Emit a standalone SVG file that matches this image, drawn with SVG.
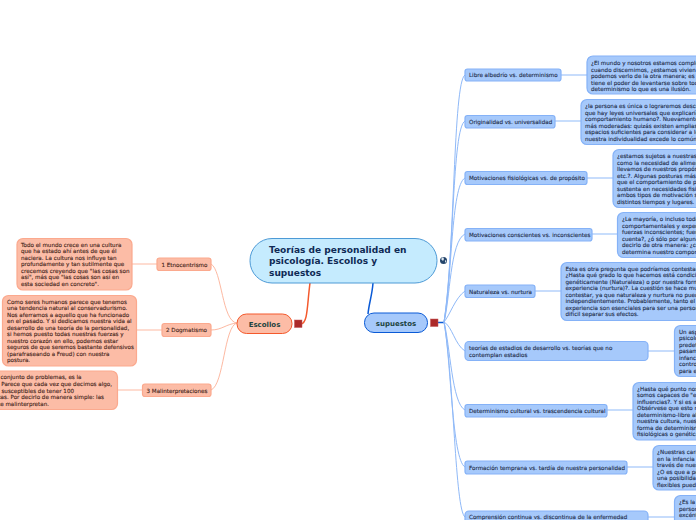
<svg xmlns="http://www.w3.org/2000/svg" width="696" height="520" viewBox="0 0 696 520">
<style>
text{font-family:"DejaVu Sans",Verdana,sans-serif;font-size:5.6px;fill:#1f2d4a;stroke:#1f2d4a;stroke-width:.12}
.b{fill:#a6c9fb;stroke:#85b2f7;stroke-width:1.2}
.o{fill:#fcbca6;stroke:#fba98e;stroke-width:1.2}
text.ot{fill:#43241a;stroke:#43241a}
.cb{fill:none;stroke:#8fb9f8;stroke-width:1}
.cl{fill:none;stroke:#b5d2fb;stroke-width:1.5}
.co{fill:none;stroke:#fdb9a2;stroke-width:1}
text.t{font-size:9.05px;font-weight:bold;fill:#0f2a55;stroke:none}
text.m{font-size:7px;font-weight:bold;fill:#1c4340;stroke:none;text-anchor:middle}
.s{fill:#ac2a2a;stroke:#c45555;stroke-width:.5}
</style>
<rect width="696" height="520" fill="#fff"/>
<g id="connectors">
<path d="M310 283C307 305 308 323 301 324" fill="none" stroke="#f4592c" stroke-width="1.5"/>
<path d="M373 283C372 296 369 303 368 314" fill="none" stroke="#0a5ad6" stroke-width="1.5"/>
<path d="M438 322.500H444" fill="none" stroke="#0a5ad6" stroke-width="1.5"/>
<path class="cb" d="M444 322C455 250 453 82 465 75"/>
<path class="cb" d="M444 322C454 260 452 128 465 121"/>
<path class="cb" d="M444 322C452 280 451 185 465 178"/>
<path class="cb" d="M444 322C450 300 450 241 465 234"/>
<path class="cb" d="M444 322C450 315 455 298 465 291"/>
<path class="cb" d="M444 322C452 326 455 345 465 351"/>
<path class="cb" d="M444 322C450 345 452 404 465 410"/>
<path class="cb" d="M444 322C451 360 452 460 465 467"/>
<path class="cb" d="M444 322C454 380 455 510 465 517"/>
<path class="cb" d="M561 75H587"/>
<path class="cl" d="M555 121H581"/>
<path class="cb" d="M587 178H613"/>
<path class="cl" d="M592 234H618"/>
<path class="cb" d="M535 291H561"/>
<path class="cb" d="M648 351H674"/>
<path class="cl" d="M607 410H633"/>
<path class="cb" d="M627 467H653"/>
<path class="cb" d="M648 517H674"/>
<path class="co" d="M237 323C222 322 222 270 211 264"/>
<path class="co" d="M237 323C226 324 222 330 211 330"/>
<path class="co" d="M237 323C224 326 224 385 211 390"/>
<path class="co" d="M132 264H157"/>
<path class="co" d="M136 330H162"/>
<path class="co" d="M117 390H142"/>
</g>
<g id="central">
<rect x="250" y="238.500" width="187" height="44.500" rx="22" fill="#c5ebfe" stroke="#4d9ad6"/>
<text class="t"><tspan x="269" y="253">Teorías de personalidad en</tspan><tspan x="269" y="264">psicología. Escollos y</tspan><tspan x="269" y="275.500">supuestos</tspan></text>
</g>
<g id="globe">
<circle cx="443.500" cy="260.500" r="3.500" fill="#24456b"/>
<path d="M441 259l2-2 1 2-1 2zM445 260l1.500 1-1.500 2z" fill="#dfe8ef"/>
</g>
<g id="escollos">
<rect x="237" y="314" width="55" height="19.500" rx="9.500" fill="#fcbca6" stroke="#f4592c"/>
<text class="m" x="264.500" y="326.500">Escollos</text>
<rect class="s" x="294.500" y="320" width="7.500" height="7.500"/>
</g>
<g id="supuestos">
<rect x="364.500" y="313" width="63" height="19.500" rx="9.500" fill="#a6c9fb" stroke="#0a5ad6"/>
<text class="m" x="396" y="325.500">supuestos</text>
<rect class="s" x="430.500" y="319" width="7.500" height="7.500"/>
</g>
<g id="n1"><rect class="b" x="465" y="69" width="96" height="12" rx="2.500"/><text x="469" y="77">Libre albedrío vs. determinismo</text></g>
<g id="d1"><rect class="b" x="587" y="56" width="130" height="38" rx="6"/><text><tspan x="591" y="65">¿El mundo y nosotros estamos comple</tspan><tspan x="591" y="71.500">cuando discernimos, ¿estamos vivien</tspan><tspan x="591" y="78">podemos verlo de la otra manera; es</tspan><tspan x="591" y="84.500">tiene el poder de levantarse sobre tod</tspan><tspan x="591" y="91">determinismo lo que es una ilusión.</tspan></text></g>
<g id="n2"><rect class="b" x="465" y="115.500" width="90" height="12.500" rx="2.500"/><text x="469" y="124">Originalidad vs. universalidad</text></g>
<g id="d2"><rect class="b" x="581" y="99.500" width="130" height="45" rx="6"/><text><tspan x="585" y="108">¿la persona es única o lograremos descu</tspan><tspan x="585" y="114.500">que hay leyes universales que explicarían</tspan><tspan x="585" y="121">comportamiento humano?. Nuevamente</tspan><tspan x="585" y="127.500">más moderadas: quizás existen amplias</tspan><tspan x="585" y="134">espacios suficientes para considerar a lo</tspan><tspan x="585" y="140.500">nuestra individualidad excede lo común</tspan></text></g>
<g id="n3"><rect class="b" x="465" y="171.500" width="122" height="13" rx="2.500"/><text x="469" y="180">Motivaciones fisiológicas vs. de propósito</text></g>
<g id="d3"><rect class="b" x="613" y="149.500" width="110" height="58" rx="6"/><text><tspan x="617" y="158">¿estamos sujetos a nuestras</tspan><tspan x="617" y="164.500">como la necesidad de alimen</tspan><tspan x="617" y="171">llevamos de nuestros propósi</tspan><tspan x="617" y="177.500">etc.?. Algunas posturas más</tspan><tspan x="617" y="184">que el comportamiento de p</tspan><tspan x="617" y="190.500">sustenta en necesidades fisi</tspan><tspan x="617" y="197">ambos tipos de motivación s</tspan><tspan x="617" y="203.500">distintos tiempos y lugares.</tspan></text></g>
<g id="n4"><rect class="b" x="465" y="228.500" width="127" height="12.500" rx="2.500"/><text x="469" y="237">Motivaciones conscientes vs. inconscientes</text></g>
<g id="d4"><rect class="b" x="617.500" y="212.500" width="110" height="45" rx="6"/><text><tspan x="622" y="221">¿La mayoría, o incluso toda</tspan><tspan x="622" y="227.500">comportamentales y experi</tspan><tspan x="622" y="234">fuerzas inconscientes; fuer</tspan><tspan x="622" y="240.500">cuenta?, ¿ó sólo por alguna</tspan><tspan x="622" y="247">decirlo de otra manera: ¿cu</tspan><tspan x="622" y="253.500">determina nuestro comport</tspan></text></g>
<g id="n5"><rect class="b" x="465" y="285" width="70" height="12.500" rx="2.500"/><text x="469" y="293.500">Naturaleza vs. nurtura</text></g>
<g id="d5"><rect class="b" x="561" y="262.500" width="160" height="58" rx="6"/><text><tspan x="565.500" y="270.500">Esta es otra pregunta que podríamos contestar</tspan><tspan x="565.500" y="277">¿Hasta qué grado lo que hacemos está condicio</tspan><tspan x="565.500" y="283.500">genéticamente (Naturaleza) o por nuestra forma</tspan><tspan x="565.500" y="290">experiencia (nurtura)?. La cuestión se hace mu</tspan><tspan x="565.500" y="296.500">contestar, ya que naturaleza y nurtura no pued</tspan><tspan x="565.500" y="303">independientemente. Probablemente, tanto el c</tspan><tspan x="565.500" y="309.500">experiencia son esenciales para ser una person</tspan><tspan x="565.500" y="316">difícil separar sus efectos.</tspan></text></g>
<g id="n6"><rect class="b" x="465" y="341.500" width="183" height="19" rx="4"/><text><tspan x="469" y="350">teorías de estadios de desarrollo vs. teorías que no</tspan><tspan x="469" y="356.500">contemplan estadios</tspan></text></g>
<g id="d6"><rect class="b" x="674.500" y="325.500" width="60" height="51" rx="6"/><text><tspan x="679" y="333.500">Un asp</tspan><tspan x="679" y="340">psicolo</tspan><tspan x="679" y="346.500">predet</tspan><tspan x="679" y="353">pasam</tspan><tspan x="679" y="359.500">infanci</tspan><tspan x="679" y="366">contro</tspan><tspan x="679" y="372.500">para e</tspan></text></g>
<g id="n7"><rect class="b" x="465" y="404.500" width="142" height="12.500" rx="2.500"/><text x="469" y="413">Determinismo cultural vs. trascendencia cultural</text></g>
<g id="d7"><rect class="b" x="633" y="382.500" width="90" height="57.500" rx="6"/><text><tspan x="637" y="391">¿Hasta qué punto nos</tspan><tspan x="637" y="397">somos capaces de "ele</tspan><tspan x="637" y="403.500">influencias?. Y si es a</tspan><tspan x="637" y="410">Obsérvese que esto n</tspan><tspan x="637" y="416.500">determinismo-libre al</tspan><tspan x="637" y="423">nuestra cultura, nues</tspan><tspan x="637" y="429.500">forma de determinism</tspan><tspan x="637" y="436">fisiológicas o genética</tspan></text></g>
<g id="n8"><rect class="b" x="465" y="461" width="162" height="13" rx="2.500"/><text x="469" y="469.500">Formación temprana vs. tardía de nuestra personalidad</text></g>
<g id="d8"><rect class="b" x="653" y="445.500" width="70" height="44.500" rx="6"/><text><tspan x="657" y="454">¿Nuestras cara</tspan><tspan x="657" y="460.500">en la infancia</tspan><tspan x="657" y="467">través de nues</tspan><tspan x="657" y="473.500">¿O es que a pe</tspan><tspan x="657" y="480">una posibilidad</tspan><tspan x="657" y="486.500">flexibles puede</tspan></text></g>
<g id="n9"><rect class="b" x="465" y="511" width="183" height="20" rx="4"/><text x="469" y="519">Comprensión continua vs. discontinua de la enfermedad</text></g>
<g id="d9"><rect class="b" x="674.500" y="495.500" width="60" height="40" rx="6"/><text><tspan x="679" y="504">¿Es la</tspan><tspan x="679" y="510.500">person</tspan><tspan x="679" y="517">excént</tspan></text></g>
<g id="l1"><rect class="o" x="157" y="258" width="54" height="12.500" rx="2.500"/><text class="ot" x="161.500" y="266.500">1 Etnocentrismo</text></g>
<g id="ld1"><rect class="o" x="17" y="238.500" width="115" height="51.500" rx="6"/><text class="ot"><tspan x="21" y="246.500">Todo el mundo crece en una cultura</tspan><tspan x="21" y="253">que ha estado ahí antes de que él</tspan><tspan x="21" y="259.500">naciera. La cultura nos influye tan</tspan><tspan x="21" y="266">profundamente y tan sutilmente que</tspan><tspan x="21" y="272.500">crecemos creyendo que "las cosas son</tspan><tspan x="21" y="279">así", más que "las cosas son así en</tspan><tspan x="21" y="285.500">esta sociedad en concreto".</tspan></text></g>
<g id="l2"><rect class="o" x="162" y="323.500" width="49" height="13" rx="2.500"/><text class="ot" x="166" y="332">2 Dogmatismo</text></g>
<g id="ld2"><rect class="o" x="2.500" y="295.500" width="134" height="70.500" rx="6"/><text class="ot"><tspan x="7" y="303.500">Como seres humanos parece que tenemos</tspan><tspan x="7" y="310">una tendencia natural al conservadurismo.</tspan><tspan x="7" y="316.500">Nos aferramos a aquello que ha funcionado</tspan><tspan x="7" y="323">en el pasado. Y si dedicamos nuestra vida al</tspan><tspan x="7" y="329.500">desarrollo de una teoría de la personalidad,</tspan><tspan x="7" y="336">si hemos puesto todas nuestras fuerzas y</tspan><tspan x="7" y="342.500">nuestro corazón en ello, podemos estar</tspan><tspan x="7" y="349">seguros de que seremos bastante defensivos</tspan><tspan x="7" y="355.500">(parafraseando a Freud) con nuestra</tspan><tspan x="7" y="362">postura.</tspan></text></g>
<g id="l3"><rect class="o" x="142.500" y="384" width="68.500" height="12.500" rx="2.500"/><text class="ot" x="146.500" y="392.500">3 Malinterpretaciones</text></g>
<g id="ld3"><rect class="o" x="-40" y="371" width="157.500" height="38.500" rx="6"/><text class="ot"><tspan text-anchor="end" x="81.500" y="379">conjunto de problemas, es la</tspan><tspan text-anchor="end" x="112" y="386">. Parece que cada vez que decimos algo,</tspan><tspan text-anchor="end" x="74" y="392.500">susceptibles de tener 100</tspan><tspan text-anchor="end" x="104" y="399">tas. Por decirlo de manera simple: las</tspan><tspan text-anchor="end" x="49" y="405.500">ce malinterpretan.</tspan></text></g>
</svg>
